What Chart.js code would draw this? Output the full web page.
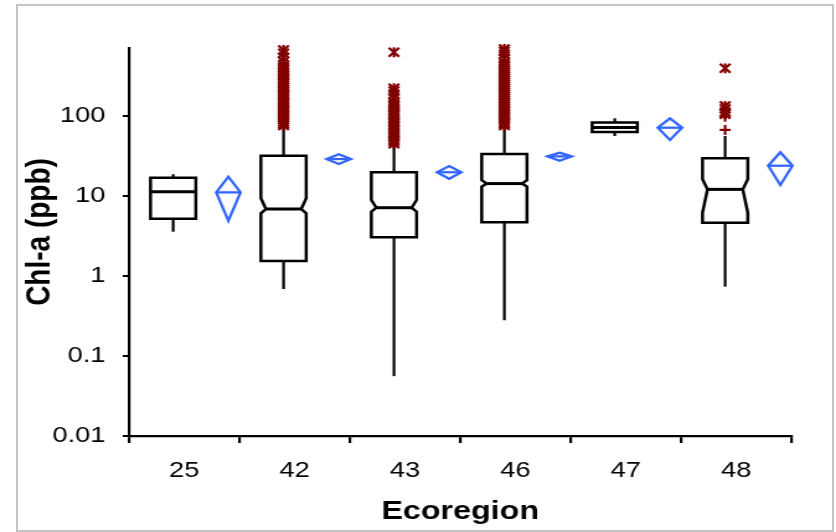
<!DOCTYPE html>
<html>
<head>
<meta charset="utf-8">
<script src="https://cdn.jsdelivr.net/npm/chart.js@4.4.0/dist/chart.umd.min.js"></script>
<style>
  html, body { margin: 0; padding: 0; background: #fff; }
  #wrap { position: relative; width: 836px; height: 532px; overflow: hidden; }
  #frame { position: absolute; left: 16px; top: 4px; width: 818px; height: 528px; box-sizing: border-box; border: 2px solid #c4c4c4; }
  /* picture is wider than tall, so the chart is drawn narrow and stretched */
  #myChart { position: absolute; left: 0; top: 0; transform-origin: 0 0; transform: scaleX(1.2404); }
</style>
</head>
<body>
<div id="wrap">
  <div id="frame"></div>
  <canvas id="myChart" width="674" height="532"></canvas>
</div>
<script>
const categories = ['25', '42', '43', '46', '47', '48'];

// box plot stats (ppb)
const whiskerLow  = [3.58, 0.688, 0.056, 0.28, 56.2, 0.735];
const q1          = [5.2, 1.54, 3.05, 4.69, 63.2, 4.64];
const median      = [11.3, 6.88, 7.14, 14.3, 71.6, 12.1];
const q3          = [16.9, 31.9, 19.8, 33.5, 83, 29.6];
const whiskerHigh = [18.7, 73.5, 42.2, 72.9, 93.6, 56.2];
const notchLow    = [null, 6.08, 6.36, 13.1, null, 6.18];
const notchHigh   = [null, 9.36, 8.91, 15.8, null, 16.2];

// mean and its interval (blue diamonds)
const meanValue = [11.1, 29.0, 19.8, 31.3, 71.4, 23.9];
const meanLow   = [4.9, 25.1, 16.4, 27.6, 50.1, 13.7];
const meanHigh  = [17.4, 33.2, 23.7, 34.8, 93.6, 35.2];

// outliers: * = extreme, + = mild
const extremeOutliers = [
    [],
    [76, 80, 85, 90, 95, 101, 107, 113, 120, 127, 135, 143, 151, 160, 170, 180, 190, 202, 214, 227,
     240, 254, 268, 284, 300, 320, 340, 360, 380, 405, 430, 480, 540, 610, 670],
    [45, 48, 50, 53, 56, 59, 62, 66, 69, 73, 77, 82, 86, 91, 96, 102, 107, 113, 120, 127,
     134, 142, 150, 168, 188, 205, 222, 625],
    [76, 80, 84, 89, 94, 100, 105, 111, 118, 125, 132, 140, 148, 157, 166, 176, 186, 197, 208, 220,
     233, 247, 262, 278, 294, 312, 330, 350, 370, 392, 415, 440, 465, 520, 590, 640, 690],
    [],
    [105, 112, 122, 133, 394]
];
const mildOutliers = [[], [], [], [], [], [67, 98]];

const yTickValues = [0.01, 0.1, 1, 10, 100];
const yTickLabels = ['0.01', '0.1', '1', '10', '100'];
const yTitle = 'Chl-a (ppb)';

const FONT = "'Liberation Sans', Arial, sans-serif";

function line(ctx, x1, y1, x2, y2) {
    ctx.beginPath();
    ctx.moveTo(x1, y1);
    ctx.lineTo(x2, y2);
    ctx.stroke();
}

const boxPlot = {
    id: 'boxPlot',
    afterDatasetsDraw(chart) {
        const { ctx, scales: { x, y } } = chart;
        const catW = x.getPixelForValue(1) - x.getPixelForValue(0);
        ctx.save();
        ctx.lineJoin = 'miter';
        categories.forEach((c, i) => {
            const cx = x.getPixelForValue(i);
            const bx = cx - 0.1 * catW;
            const hw = 0.205 * catW;
            const nw = 0.045 * catW;
            const yMin = y.getPixelForValue(whiskerLow[i]);
            const yQ1 = y.getPixelForValue(q1[i]);
            const yMed = y.getPixelForValue(median[i]);
            const yQ3 = y.getPixelForValue(q3[i]);
            const yMax = y.getPixelForValue(whiskerHigh[i]);

            // whiskers
            ctx.strokeStyle = '#000';
            ctx.lineWidth = 2.2;
            line(ctx, bx, yMax, bx, yQ3);
            line(ctx, bx, yQ1, bx, yMin);

            // box (notched where there is a notch)
            ctx.lineWidth = 2.5;
            ctx.beginPath();
            let inset = 0;
            if (notchLow[i] != null) {
                const yNl = y.getPixelForValue(notchLow[i]);
                const yNh = y.getPixelForValue(notchHigh[i]);
                inset = nw;
                ctx.moveTo(bx - hw, yQ3);
                ctx.lineTo(bx + hw, yQ3);
                ctx.lineTo(bx + hw, yNh);
                ctx.lineTo(bx + hw - nw, yMed);
                ctx.lineTo(bx + hw, yNl);
                ctx.lineTo(bx + hw, yQ1);
                ctx.lineTo(bx - hw, yQ1);
                ctx.lineTo(bx - hw, yNl);
                ctx.lineTo(bx - hw + nw, yMed);
                ctx.lineTo(bx - hw, yNh);
            } else {
                ctx.rect(bx - hw, yQ3, 2 * hw, yQ1 - yQ3);
            }
            ctx.closePath();
            ctx.stroke();
            ctx.lineWidth = 3;
            line(ctx, bx - hw + inset, yMed, bx + hw - inset, yMed);

            // mean diamond
            const dx = cx + 0.4 * catW;
            const dw = 0.11 * catW;
            const yM = y.getPixelForValue(meanValue[i]);
            const yLo = y.getPixelForValue(meanLow[i]);
            const yHi = y.getPixelForValue(meanHigh[i]);
            ctx.strokeStyle = '#3366ff';
            ctx.lineWidth = 2.3;
            ctx.beginPath();
            ctx.moveTo(dx, yHi);
            ctx.lineTo(dx + dw, yM);
            ctx.lineTo(dx, yLo);
            ctx.lineTo(dx - dw, yM);
            ctx.closePath();
            ctx.stroke();
            line(ctx, dx - dw, yM, dx + dw, yM);

            // outliers
            ctx.strokeStyle = '#800000';
            ctx.lineWidth = 2.2;
            extremeOutliers[i].forEach(v => {
                const py = y.getPixelForValue(v);
                line(ctx, bx - 4.2, py - 4.5, bx + 4.2, py + 4.5);
                line(ctx, bx - 4.2, py + 4.5, bx + 4.2, py - 4.5);
                line(ctx, bx, py - 5, bx, py + 5);
            });
            mildOutliers[i].forEach(v => {
                const py = y.getPixelForValue(v);
                line(ctx, bx - 4.4, py, bx + 4.4, py);
                line(ctx, bx, py - 5, bx, py + 5);
            });
        });
        ctx.restore();
    },
    afterDraw(chart) {
        // y axis title, a little above the middle of the axis
        const { ctx, chartArea } = chart;
        ctx.save();
        ctx.translate(32.5, (chartArea.top + chartArea.bottom) / 2 - 10);
        ctx.rotate(-Math.PI / 2);
        ctx.fillStyle = '#000';
        ctx.font = 'bold 28px ' + FONT;
        ctx.textAlign = 'center';
        ctx.textBaseline = 'middle';
        ctx.fillText(yTitle, 0, 0);
        ctx.restore();
    }
};

const ctx = document.getElementById('myChart').getContext('2d');
const myChart = new Chart(ctx, {
    type: 'bar',
    data: {
        labels: categories,
        datasets: []
    },
    options: {
        responsive: false,
        devicePixelRatio: 1,
        animation: false,
        layout: { padding: { left: 0, top: 48, right: 36, bottom: 0 } },
        plugins: {
            legend: { display: false },
            tooltip: { enabled: false }
        },
        scales: {
            x: {
                offset: true,
                grid: { offset: true, drawOnChartArea: false, drawTicks: true, tickLength: 7, color: '#000', lineWidth: 2.2 },
                border: { display: true, color: '#000', width: 2.2 },
                ticks: { color: '#000', font: { family: FONT, size: 22 }, padding: 15, maxRotation: 0, autoSkip: false },
                title: { display: true, text: 'Ecoregion', color: '#000', font: { family: FONT, size: 26, weight: 'bold' }, padding: { top: 0, bottom: 5 } },
                afterFit: s => { s.height = 96; }
            },
            y: {
                type: 'logarithmic',
                min: 0.01,
                max: 708,
                afterBuildTicks: s => { s.ticks = yTickValues.map(v => ({ value: v })); },
                grid: { drawOnChartArea: false, drawTicks: true, tickLength: 5, color: '#000', lineWidth: 2 },
                border: { display: true, color: '#000', width: 2.2 },
                ticks: { color: '#000', font: { family: FONT, size: 22 }, padding: 14, callback: (v, i) => yTickLabels[i] },
                title: { display: false },
                afterFit: s => { s.width = 104; }
            }
        }
    },
    plugins: [boxPlot]
});
</script>
</body>
</html>
